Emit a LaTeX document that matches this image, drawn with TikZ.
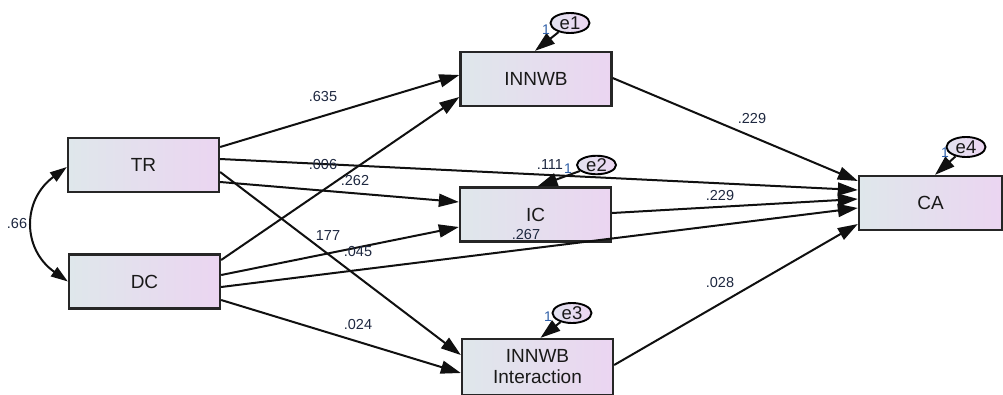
\documentclass[tikz,border=0pt]{standalone}
\usepackage{fontspec}
\setmainfont{Liberation Sans}
\usetikzlibrary{arrows.meta,shapes.geometric}
\definecolor{boxL}{HTML}{DFE7EB}
\definecolor{boxR}{HTML}{EBD5F1}
\definecolor{errL}{HTML}{E2E2F0}
\definecolor{errR}{HTML}{ECD6F1}
\definecolor{edgec}{HTML}{101010}
\definecolor{numc}{HTML}{1E2840}
\definecolor{onec}{HTML}{2F5FA8}
\begin{document}
\begin{tikzpicture}[x=1pt,y=-1pt,
  box/.style={rectangle, draw=black!85, line width=2.3pt, left color=boxL, right color=boxR,
    minimum width=151pt, minimum height=54pt, inner sep=0pt,
    font=\fontsize{19}{21}\selectfont, text=black!90, align=center},
  err/.style={ellipse, draw=black, line width=1.9pt, left color=errL, right color=errR,
    minimum width=39pt, minimum height=20pt, inner sep=0pt,
    font=\fontsize{18.5}{18}\selectfont, text=black!90},
  arr/.style={-{Triangle[length=20pt,width=13pt]}, line width=2pt, draw=edgec},
  cov/.style={{Triangle[length=17pt,width=11pt]}-{Triangle[length=17pt,width=11pt]}, line width=2pt, draw=edgec},
  lbl/.style={font=\fontsize{14.5}{14}\selectfont, text=numc, inner sep=0pt},
  one/.style={font=\fontsize{14}{14}\selectfont, text=onec, inner sep=0pt}]
\useasboundingbox (0,0) rectangle (1003,394);
\fill[white] (0,0) rectangle (1003,394);

% boxes
\node[box] (TR) at (143.5,165) {TR};
\node[box] (DC) at (144.5,281.5) {DC};
\node[box] (INNWB) at (536,79) {INNWB};
\node[box] (IC) at (535.5,214.5) {IC};
\node[box, minimum height=56pt] (INT) at (537.5,367) {INNWB\\Interaction};
\node[box, minimum width=143pt] (CA) at (930.5,203) {CA};

% error terms
\node[err] (e1) at (570,23) {e1};
\node[err, minimum height=17pt] (e2) at (596.5,165) {e2};
\node[err] (e3) at (572,313) {e3};
\node[err] (e4) at (966,147) {e4};

% paths
\draw[arr] ([yshift=18pt]TR.east) -- ([yshift=4pt]INNWB.west);
\draw[arr] ([yshift=6pt]TR.east) -- ([yshift=13pt]CA.west);
\draw[arr] ([yshift=-7pt]TR.east) -- ([yshift=12pt]INT.west);
\draw[arr] ([yshift=-17pt]TR.east) -- ([yshift=12.5pt]IC.west);
\draw[arr] ([yshift=21.5pt]DC.east) -- ([yshift=-18pt]INNWB.west);
\draw[arr] ([yshift=6.5pt]DC.east) -- ([yshift=-12.5pt]IC.west);
\draw[arr] ([yshift=-5.5pt]DC.east) -- ([yshift=-5pt]CA.west);
\draw[arr] ([yshift=-18.5pt]DC.east) -- ([yshift=-6pt]INT.west);
\draw[arr] ([yshift=1pt]INNWB.east) -- ([yshift=22pt]CA.west);
\draw[arr] ([yshift=1.5pt]IC.east) -- ([yshift=4pt]CA.west);
\draw[arr] ([yshift=2pt]INT.east) -- ([yshift=-21pt]CA.west);

% error arrows
\draw[arr] (e1) -- ([xshift=-1pt]INNWB.north);
\draw[arr] (e2) -- ([xshift=2pt]IC.north);
\draw[arr] (e3) -- ([xshift=3pt]INT.north);
\draw[arr] (e4) -- ([xshift=4.5pt]CA.north);

% covariance
\draw[cov] ([yshift=-2pt]TR.west) .. controls (22,200) and (22,249) .. (DC.west);

% labels
\node[lbl] (l1) at (323,97) {.635};
\node[lbl] (l2) at (323,165) {.006};
\node[lbl] (l3) at (355,181) {.262};
\node[lbl] (l4) at (328,236) {177};
\node[lbl] (l5) at (358,252) {.045};
\node[lbl] (l6) at (358,325) {.024};
\node[lbl] (l7) at (550,165) {.111};
\node[lbl] (l8) at (526,235) {.267};
\node[lbl] (l9) at (752,119) {.229};
\node[lbl] (l10) at (720,196) {.229};
\node[lbl] (l11) at (720,283) {.028};
\node[lbl] (l12) at (17,224) {.66};

\node[one] (o1) at (546,30) {1};
\node[one] (o2) at (568,169) {1};
\node[one] (o3) at (548,317) {1};
\node[one] (o4) at (945,153) {1};
\end{tikzpicture}
\end{document}
